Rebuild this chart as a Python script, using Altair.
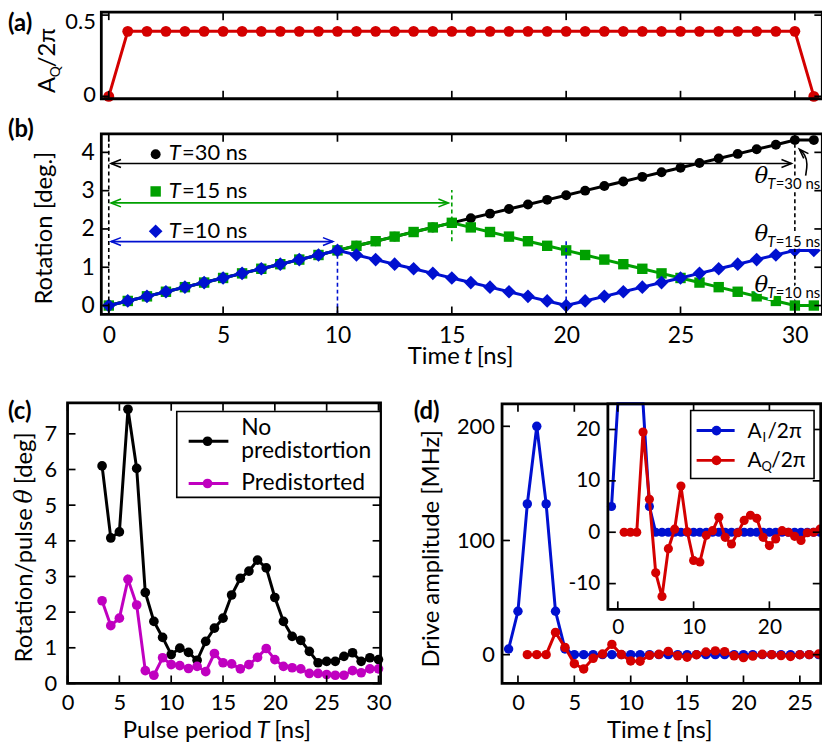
import altair as alt
import pandas as pd

FONT = "Lato"
SERIF = "DejaVu Serif"
RED = "#d40000"
BLUE = "#0010d0"
GREEN = "#00a000"
MAGENTA = "#c000c0"

# ---------------- data ----------------
# panels (a) and (b): samples every 0.833 ns
t_ab = [0.0, 0.83, 1.67, 2.5, 3.33, 4.17, 5.0, 5.83, 6.67, 7.5, 8.33, 9.17,
        10.0, 10.83, 11.67, 12.5, 13.33, 14.17, 15.0, 15.83, 16.67, 17.5,
        18.33, 19.17, 20.0, 20.83, 21.67, 22.5, 23.33, 24.17, 25.0, 25.83,
        26.67, 27.5, 28.33, 29.17, 30.0, 30.83]
aq_a = [0.0, 0.4, 0.4, 0.4, 0.4, 0.4, 0.4, 0.4, 0.4, 0.4, 0.4, 0.4, 0.4,
        0.4, 0.4, 0.4, 0.4, 0.4, 0.4, 0.4, 0.4, 0.4, 0.4, 0.4, 0.4, 0.4,
        0.4, 0.4, 0.4, 0.4, 0.4, 0.4, 0.4, 0.4, 0.4, 0.4, 0.4, 0.0]
rot_T30 = [0.0, 0.12, 0.24, 0.36, 0.48, 0.6, 0.72, 0.84, 0.96, 1.08, 1.2,
           1.32, 1.44, 1.56, 1.68, 1.8, 1.92, 2.04, 2.16, 2.28, 2.4, 2.52,
           2.64, 2.76, 2.88, 3.0, 3.12, 3.24, 3.36, 3.48, 3.6, 3.72, 3.84,
           3.96, 4.08, 4.2, 4.32, 4.32]
rot_T15 = [0.0, 0.12, 0.24, 0.36, 0.48, 0.6, 0.72, 0.84, 0.96, 1.08, 1.2,
           1.32, 1.44, 1.56, 1.68, 1.8, 1.92, 2.04, 2.16, 2.04, 1.92, 1.8,
           1.68, 1.56, 1.44, 1.32, 1.2, 1.08, 0.96, 0.84, 0.72, 0.6, 0.48,
           0.36, 0.24, 0.12, 0.0, 0.0]
rot_T10 = [0.0, 0.12, 0.24, 0.36, 0.48, 0.6, 0.72, 0.84, 0.96, 1.08, 1.2,
           1.32, 1.44, 1.32, 1.2, 1.08, 0.96, 0.84, 0.72, 0.6, 0.48, 0.36,
           0.24, 0.12, 0.0, 0.12, 0.24, 0.36, 0.48, 0.6, 0.72, 0.84, 0.96,
           1.08, 1.2, 1.32, 1.44, 1.44]

# panel (b) annotations
dash_t = [0, 15, 10, 20, 30]
dash_lo = [-0.233, 1.68, -0.233, -0.233, -0.233]
dash_hi = [4.33, 3.02, 1.30, 1.68, 4.20]
dash_col = ["black", GREEN, BLUE, BLUE, "black"]
arrow_y = [3.71, 2.68, 1.67]
arrow_x0 = [0.1, 0.1, 0.1]
arrow_x1 = [29.85, 14.85, 9.8]
arrow_col = ["black", GREEN, BLUE]
key_y = [3.95, 2.98, 1.94]
key_text_y = [3.81, 2.81, 1.77]
key_labels = ["=30 ns", "=15 ns", "=10 ns"]
theta_y = [3.21, 1.685, 0.345]
theta_sub = ["=30 ns", "=15 ns", "=10 ns"]
curl_t = [30.47, 30.56, 30.45, 30.2]
curl_v = [3.39, 3.7, 3.95, 4.08]

# panel (c)
period_c = [3.33, 4.17, 5.0, 5.83, 6.67, 7.5, 8.33, 9.17, 10.0, 10.83, 11.67,
            12.5, 13.33, 14.17, 15.0, 15.83, 16.67, 17.5, 18.33, 19.17, 20.0,
            20.83, 21.67, 22.5, 23.33, 24.17, 25.0, 25.83, 26.67, 27.5, 28.33,
            29.17, 30.0]
no_predist = [6.1, 4.08, 4.25, 7.69, 6.03, 2.55, 1.74, 1.29, 0.81, 0.99, 0.87,
              0.65, 1.18, 1.55, 1.83, 2.48, 2.95, 3.15, 3.46, 3.24, 2.41, 1.74,
              1.32, 1.21, 0.9, 0.58, 0.62, 0.62, 0.76, 0.86, 0.62, 0.72, 0.67]
predist = [2.32, 1.62, 1.83, 2.92, 2.2, 0.36, 0.23, 0.72, 0.53, 0.5, 0.42,
           0.48, 0.33, 0.84, 0.58, 0.55, 0.41, 0.53, 0.73, 0.98, 0.67, 0.48,
           0.44, 0.41, 0.28, 0.28, 0.25, 0.23, 0.23, 0.36, 0.3, 0.41, 0.41]

# panel (d)
t_i = [-0.83, 0.0, 0.83, 1.67, 2.5, 3.33, 4.17, 5.0, 5.83, 6.67, 7.5, 8.33,
       9.17, 10.0, 10.83, 11.67, 12.5, 13.33, 14.17, 15.0, 15.83, 16.67, 17.5,
       18.33, 19.17, 20.0, 20.83, 21.67, 22.5, 23.33, 24.17, 25.0, 25.83, 26.67]
ai_d = [5, 38, 132, 200, 132, 38, 5, 0, 0, 0, 0, 0, 0, 0, 0, 0, 0, 0, 0, 0,
        0, 0, 0, 0, 0, 0, 0, 0, 0, 0, 0, 0, 0, 0]
t_q = [0.83, 1.67, 2.5, 3.33, 4.17, 5.0, 5.83, 6.67, 7.5, 8.33, 9.17, 10.0,
       10.83, 11.67, 12.5, 13.33, 14.17, 15.0, 15.83, 16.67, 17.5, 18.33,
       19.17, 20.0, 20.83, 21.67, 22.5, 23.33, 24.17, 25.0, 25.83, 26.67]
aq_d = [0, 0, 0, 19.5, 6.4, -7.9, -12.5, -3.2, 0.6, 9.0, 0.1, -5.5, -5.8,
        -0.6, 0.3, 2.9, -1.0, -2.3, -0.1, 2.3, 3.3, 2.7, -1.0, -2.6, -1.3,
        0.3, 0.0, -0.8, -1.6, -0.1, 0.0, 0.6]

# tick values
ticks_ab_x = [0, 5, 10, 15, 20, 25, 30]
ticks_a_y = [0, 0.5]
ticks_b_y = [0, 1, 2, 3, 4]
ticks_c_x = [0, 5, 10, 15, 20, 25, 30]
ticks_c_y = [0, 1, 2, 3, 4, 5, 6, 7]
ticks_d_x = [0, 5, 10, 15, 20, 25]
ticks_d_y = [0, 100, 200]
ticks_i_x = [0, 10, 20]
ticks_i_y = [-10, 0, 10, 20]

W, H = 820, 738
LW = 3
FW = 2.8
TITLE = 24

# ---------------- helpers ----------------
def mk(xs, ys, ax, ay):
    def X(f):
        return alt.X(f, type="quantitative", scale=xs, axis=ax)

    def Y(f):
        return alt.Y(f, type="quantitative", scale=ys, axis=ay)
    return X, Y


def frame_ticks(X, Y, xdom, ydom, xt, yt):
    n, m = len(xt), len(yt)
    sets = [
        (pd.DataFrame({"x": xt, "y": [ydom[0]] * n}), "M0,0L0,-2"),
        (pd.DataFrame({"x": xt, "y": [ydom[1]] * n}), "M0,0L0,2"),
        (pd.DataFrame({"x": [xdom[0]] * m, "y": yt}), "M0,0L2,0"),
        (pd.DataFrame({"x": [xdom[1]] * m, "y": yt}), "M0,0L-2,0"),
    ]
    layers = []
    for df, shp in sets:
        layers.append(
            alt.Chart(df).mark_point(shape=shp, size=64, filled=False, color="black",
                                     strokeWidth=1.7, opacity=1)
            .encode(x=X("x"), y=Y("y")))
    fr = pd.DataFrame({"x": [xdom[0]], "x2": [xdom[1]], "y": [ydom[0]], "y2": [ydom[1]]})
    layers.append(
        alt.Chart(fr).mark_rect(fillOpacity=0, stroke="black", strokeWidth=FW)
        .encode(x=X("x"), x2=alt.X2("x2"), y=Y("y"), y2=alt.Y2("y2")))
    return layers


def series(df, X, Y, xf, yf, color, shape, size):
    line = alt.Chart(df).mark_line(color=color, strokeWidth=LW).encode(x=X(xf), y=Y(yf))
    pts = alt.Chart(df).mark_point(filled=True, color=color, shape=shape, size=size,
                                   opacity=1).encode(x=X(xf), y=Y(yf))
    return [line, pts]


def ptext(s, x, y, size, font=FONT, **kw):
    return alt.Chart(pd.DataFrame({"s": [s]})).mark_text(
        align=kw.pop("align", "left"), baseline=kw.pop("baseline", "alphabetic"),
        fontSize=size, font=font, color=kw.pop("color", "black"), **kw
    ).encode(x=alt.value(x), y=alt.value(y), text="s:N")


def xtitle(pre, ital, post, c, y, wpre, wital):
    # horizontal axis title with an italic symbol; c = centre of whole title
    gap = 0.19 * TITLE
    total = wpre + gap + wital + gap + 1.57 * TITLE
    left = c - total / 2
    xr = left + wpre
    xc = xr + gap + wital / 2
    xl = xc + wital / 2 + gap
    return [ptext(pre, xr, y, TITLE, align="right"),
            ptext(ital, xc, y, TITLE, align="center", fontStyle="italic"),
            ptext(post, xl, y, TITLE, align="left")]


# ---------------- panel (a) ----------------
xdA, ydA = [-0.326, 31.2], [-0.015, 0.518]
axA_y = alt.Axis(orient="left", offset=-94, values=ticks_a_y, format="~g",
                 labelPadding=6, labelFontSize=22, title=None,
                 labelOffset={"condition": {"test": "datum.value > 0.25", "value": 6},
                              "value": -2})
XA, YA = mk(alt.Scale(domain=xdA, range=[94, 820.3], nice=False, zero=False),
            alt.Scale(domain=ydA, range=[88.7, 1.5], nice=False, zero=False),
            None, axA_y)
dfA = pd.DataFrame({"t": t_ab, "a": aq_a})
panelA = alt.layer(*series(dfA, XA, YA, "t", "a", RED, "circle", 120),
                   *frame_ticks(XA, YA, xdA, ydA, ticks_ab_x, ticks_a_y))

# ---------------- panel (b) ----------------
xdB, ydB = [-0.326, 31.2], [-0.233, 4.485]
axB_x = alt.Axis(orient="bottom", offset=306 - H, values=ticks_ab_x, labelPadding=28.7,
                 labelBaseline="alphabetic", labelFontSize=23, title=None)
axB_y = alt.Axis(orient="left", offset=-94, values=ticks_b_y, labelPadding=7,
                 labelFontSize=23, title=None)
XB, YB = mk(alt.Scale(domain=xdB, range=[94, 820.3], nice=False, zero=False),
            alt.Scale(domain=ydB, range=[306, 124], nice=False, zero=False),
            axB_x, axB_y)
dfB = pd.DataFrame({"t": t_ab, "r30": rot_T30, "r15": rot_T15, "r10": rot_T10})
dfDash = pd.DataFrame({"t": dash_t, "lo": dash_lo, "hi": dash_hi, "c": dash_col})
dfArr = pd.DataFrame({"x0": arrow_x0, "x1": arrow_x1, "y": arrow_y, "c": arrow_col})
dfKeyC = pd.DataFrame({"t": [2.05], "v": [key_y[0]]})
dfKeyS = pd.DataFrame({"t": [2.05], "v": [key_y[1]]})
dfKeyD = pd.DataFrame({"t": [2.05], "v": [key_y[2]]})
dfKeyT = pd.DataFrame({"t": [2.62] * 3, "v": key_text_y, "s": key_labels})
dfTheta = pd.DataFrame({"t": [28.23] * 3, "v": theta_y, "s": theta_sub})
dfCurl = pd.DataFrame({"t": curl_t, "v": curl_v, "o": [0, 1, 2, 3]})
dfCurlHead = pd.DataFrame({"t": [curl_t[-1]], "v": [curl_v[-1]]})


def theta_text(color, halo):
    extra = {"stroke": "white", "strokeWidth": 4} if halo else {}
    return [
        alt.Chart(dfTheta).mark_text(align="left", baseline="alphabetic", fontSize=23,
                                     font=SERIF, fontStyle="italic", color=color, **extra)
        .encode(x=XB("t"), y=YB("v"), text=alt.value("θ")),
        alt.Chart(dfTheta).mark_text(align="left", baseline="alphabetic", fontSize=15,
                                     font=FONT, fontStyle="italic", dx=13, dy=6, color=color,
                                     **extra)
        .encode(x=XB("t"), y=YB("v"), text=alt.value("T")),
        alt.Chart(dfTheta).mark_text(align="left", baseline="alphabetic", fontSize=15,
                                     font=FONT, dx=21.5, dy=6, color=color, **extra)
        .encode(x=XB("t"), y=YB("v"), text="s:N"),
    ]


b_layers = []
b_layers += series(dfB, XB, YB, "t", "r30", "black", "circle", 100)
b_layers += series(dfB, XB, YB, "t", "r15", GREEN, "square", 110)
b_layers += series(dfB, XB, YB, "t", "r10", BLUE, "diamond", 190)
b_layers.append(alt.Chart(dfDash).mark_rule(strokeDash=[4, 3], strokeWidth=1.6).encode(
    x=XB("t"), y=YB("lo"), y2=alt.Y2("hi"), color=alt.Color("c:N", scale=None)))
b_layers.append(alt.Chart(dfArr).mark_rule(strokeWidth=1.6).encode(
    x=XB("x0"), x2=alt.X2("x1"), y=YB("y"), color=alt.Color("c:N", scale=None)))
b_layers.append(alt.Chart(dfArr).mark_point(shape="M2,-0.8L0,0L2,0.8", size=100, filled=False,
                                            strokeWidth=1.6, opacity=1).encode(
    x=XB("x0"), y=YB("y"), color=alt.Color("c:N", scale=None)))
b_layers.append(alt.Chart(dfArr).mark_point(shape="M-2,-0.8L0,0L-2,0.8", size=100, filled=False,
                                            strokeWidth=1.6, opacity=1).encode(
    x=XB("x1"), y=YB("y"), color=alt.Color("c:N", scale=None)))
b_layers.append(alt.Chart(dfKeyC).mark_point(filled=True, shape="circle", size=100, color="black",
                                             opacity=1).encode(x=XB("t"), y=YB("v")))
b_layers.append(alt.Chart(dfKeyS).mark_point(filled=True, shape="square", size=110, color=GREEN,
                                             opacity=1).encode(x=XB("t"), y=YB("v")))
b_layers.append(alt.Chart(dfKeyD).mark_point(filled=True, shape="diamond", size=190, color=BLUE,
                                             opacity=1).encode(x=XB("t"), y=YB("v")))
b_layers.append(alt.Chart(dfKeyT).mark_text(align="left", baseline="alphabetic", fontSize=22,
                                            font=FONT, fontStyle="italic", color="black").encode(
    x=XB("t"), y=YB("v"), text=alt.value("T")))
b_layers.append(alt.Chart(dfKeyT).mark_text(align="left", baseline="alphabetic", fontSize=22,
                                            font=FONT, dx=13.5, color="black").encode(
    x=XB("t"), y=YB("v"), text="s:N"))
b_layers += theta_text("white", True)
b_layers += theta_text("black", False)
b_layers.append(alt.Chart(dfCurl).mark_line(color="black", strokeWidth=1.6, interpolate="basis")
                .encode(x=XB("t"), y=YB("v"), order="o:Q"))
b_layers.append(alt.Chart(dfCurlHead).mark_point(shape="M1.91,0.92L0,0L0.92,1.91", size=90,
                                                 filled=False, color="black", strokeWidth=1.6,
                                                 opacity=1).encode(x=XB("t"), y=YB("v")))
b_layers += frame_ticks(XB, YB, xdB, ydB, ticks_ab_x, ticks_b_y)
panelB = alt.layer(*b_layers)

# ---------------- panel (c) ----------------
xdC, ydC = [0, 30.2], [0, 7.87]
axC_x = alt.Axis(orient="bottom", offset=677.7 - H, values=ticks_c_x, labelPadding=26,
                 labelBaseline="alphabetic", labelFontSize=22, title=None)
axC_y = alt.Axis(orient="left", offset=-60, values=ticks_c_y, labelPadding=11,
                 labelFontSize=22, title=None)
XC, YC = mk(alt.Scale(domain=xdC, range=[60, 375.3], nice=False, zero=False),
            alt.Scale(domain=ydC, range=[677.7, 395], nice=False, zero=False),
            axC_x, axC_y)
dfC = pd.DataFrame({"T": period_c, "no": no_predist, "pre": predist})
panelC = alt.layer(
    *series(dfC, XC, YC, "T", "no", "black", "circle", 95),
    *series(dfC, XC, YC, "T", "pre", MAGENTA, "circle", 95),
    *frame_ticks(XC, YC, xdC, ydC, ticks_c_x, ticks_c_y))

# ---------------- panel (d) ----------------
xdD, ydD = [-1.41, 26.85], [-25.2, 219.7]
axD_x = alt.Axis(orient="bottom", offset=677.7 - H, values=ticks_d_x, labelPadding=26,
                 labelBaseline="alphabetic", labelFontSize=22, title=None)
axD_y = alt.Axis(orient="left", offset=-497.7, values=ticks_d_y, labelPadding=7.7,
                 labelFontSize=22, title=None)
XD, YD = mk(alt.Scale(domain=xdD, range=[497.7, 818.7], nice=False, zero=False),
            alt.Scale(domain=ydD, range=[677.7, 396], nice=False, zero=False),
            axD_x, axD_y)
dfDI = pd.DataFrame({"t": t_i, "v": ai_d})
dfDQ = pd.DataFrame({"t": t_q, "v": aq_d})
panelD = alt.layer(
    *series(dfDI, XD, YD, "t", "v", BLUE, "circle", 90),
    *series(dfDQ, XD, YD, "t", "v", RED, "circle", 90),
    *frame_ticks(XD, YD, xdD, ydD, ticks_d_x, ticks_d_y))

# ---------------- inset of (d) ----------------
xdI, ydI = [-1.31, 26.77], [-15.0, 25.0]
axI_x = alt.Axis(orient="bottom", offset=603 - H, values=ticks_i_x, labelPadding=24,
                 labelBaseline="alphabetic", labelFontSize=21, title=None)
axI_y = alt.Axis(orient="left", offset=-604.3, values=ticks_i_y, labelPadding=8,
                 labelFontSize=21, labelExpr="'' + datum.value", title=None)
XI, YI = mk(alt.Scale(domain=xdI, range=[604.3, 818.7], nice=False, zero=False),
            alt.Scale(domain=ydI, range=[603, 396], nice=False, zero=False, clamp=True),
            axI_x, axI_y)
bg = pd.DataFrame({"x": [xdI[0]], "x2": [xdI[1]], "y": [ydI[0]], "y2": [ydI[1]]})
inset_layers = [
    alt.Chart(bg).mark_rect(color="white").encode(
        x=XI("x"), x2=alt.X2("x2"), y=YI("y"), y2=alt.Y2("y2")),
    alt.Chart(dfDI).mark_line(color=BLUE, strokeWidth=LW).encode(x=XI("t"), y=YI("v")),
    alt.Chart(dfDI).transform_filter("datum.v <= 25").mark_point(
        filled=True, color=BLUE, size=85, opacity=1).encode(x=XI("t"), y=YI("v")),
    alt.Chart(dfDQ).mark_line(color=RED, strokeWidth=LW).encode(x=XI("t"), y=YI("v")),
    alt.Chart(dfDQ).mark_point(filled=True, color=RED, size=85, opacity=1).encode(
        x=XI("t"), y=YI("v")),
]
inset_layers += frame_ticks(XI, YI, xdI, ydI, ticks_i_x, ticks_i_y)
panelI = alt.layer(*inset_layers)

# ---------------- legends, titles & labels (pixel placed) ----------------
def box(x0, x1, y0, y1):
    return alt.Chart(pd.DataFrame({"a": [0]})).mark_rect(
        fill="white", stroke="black", strokeWidth=1.6).encode(
        x=alt.value(x0), x2=alt.value(x1), y=alt.value(y0), y2=alt.value(y1))


def key(x0, x1, xm, y, color):
    one = pd.DataFrame({"a": [0]})
    return [
        alt.Chart(one).mark_rule(color=color, strokeWidth=LW).encode(
            x=alt.value(x0), x2=alt.value(x1), y=alt.value(y)),
        alt.Chart(one).mark_point(filled=True, color=color, size=95, opacity=1).encode(
            x=alt.value(xm), y=alt.value(y)),
    ]


extras = []
extras.append(box(170, 375.3, 403.7, 490.3))
extras += key(182, 222, 201, 433.7, "black")
extras += key(182, 222, 201, 476.3, MAGENTA)
extras.append(ptext("No", 235, 427, 23))
extras.append(ptext("predistortion", 235, 451, 23))
extras.append(ptext("Predistorted", 235, 483, 23))

extras.append(box(687.7, 812, 402.7, 471.3))
extras += key(693.7, 732, 713.7, 423, BLUE)
extras += key(693.7, 732, 713.7, 453, RED)
extras.append(ptext("A", 745, 430, 21))
extras.append(ptext("I", 760, 434, 13))
extras.append(ptext("/2π", 765, 430, 21))
extras.append(ptext("A", 745, 460, 21))
extras.append(ptext("Q", 759, 464, 13))
extras.append(ptext("/2π", 769, 460, 21))

# axis titles
extras += xtitle("Time", "t", "[ns]", 456.5, 356, 2.16 * TITLE, 0.33 * TITLE)
extras += xtitle("Pulse period", "T", "[ns]", 212, 733, 5.32 * TITLE, 0.55 * TITLE)
extras += xtitle("Time", "t", "[ns]", 657, 733, 2.16 * TITLE, 0.33 * TITLE)
extras.append(ptext("Rotation [deg.]", 44, 219, TITLE, align="center", angle=270))
extras.append(ptext("Drive amplitude [MHz]", 434, 542, TITLE, align="center", angle=270))
# "Rotation/pulse θ [deg]" rotated, with italic theta
_g = 0.19 * TITLE
_w1, _wt, _w2 = 6.32 * TITLE, 0.62 * TITLE, 2.19 * TITLE
_bottom = 538.7 + (_w1 + _g + _wt + _g + _w2) / 2
_yend1 = _bottom - _w1
_yth = _yend1 - _g - _wt / 2
_y2 = _yth - _wt / 2 - _g
extras.append(ptext("Rotation/pulse", 24, _yend1, TITLE, align="right", angle=270))
extras.append(ptext("θ", 24, _yth, TITLE, font=SERIF, align="center", angle=270,
                    fontStyle="italic"))
extras.append(ptext("[deg]", 24, _y2, TITLE, align="left", angle=270))

# y-title of panel (a)
extras.append(ptext("A", 47, 83, 24, angle=270))
extras.append(ptext("Q", 47, 83, 14, angle=270, dx=16, dy=5))
extras.append(ptext("/2π", 47, 83, 24, angle=270, dx=26))

for lab, x, y in [("(a)", 0, 20), ("(b)", 0, 127), ("(c)", 0, 411), ("(d)", 408.7, 411)]:
    extras.append(ptext(lab, x, y, 24, fontWeight="bold"))

chart = alt.layer(panelA, panelB, panelC, panelD, panelI, *extras).resolve_scale(
    x="independent", y="independent"
).properties(
    width=W, height=H, padding=0,
    autosize=alt.AutoSizeParams(type="none")
).configure_view(stroke=None).configure_axis(
    grid=False, domain=False, ticks=False, tickSize=0, labelFont=FONT, titleFont=FONT,
    labelColor="black", titleColor="black", titleFontWeight="normal", labelFlush=False,
    labelOverlap=False
)

chart.save("out.html", embed_options={"renderer": "svg", "actions": False})
